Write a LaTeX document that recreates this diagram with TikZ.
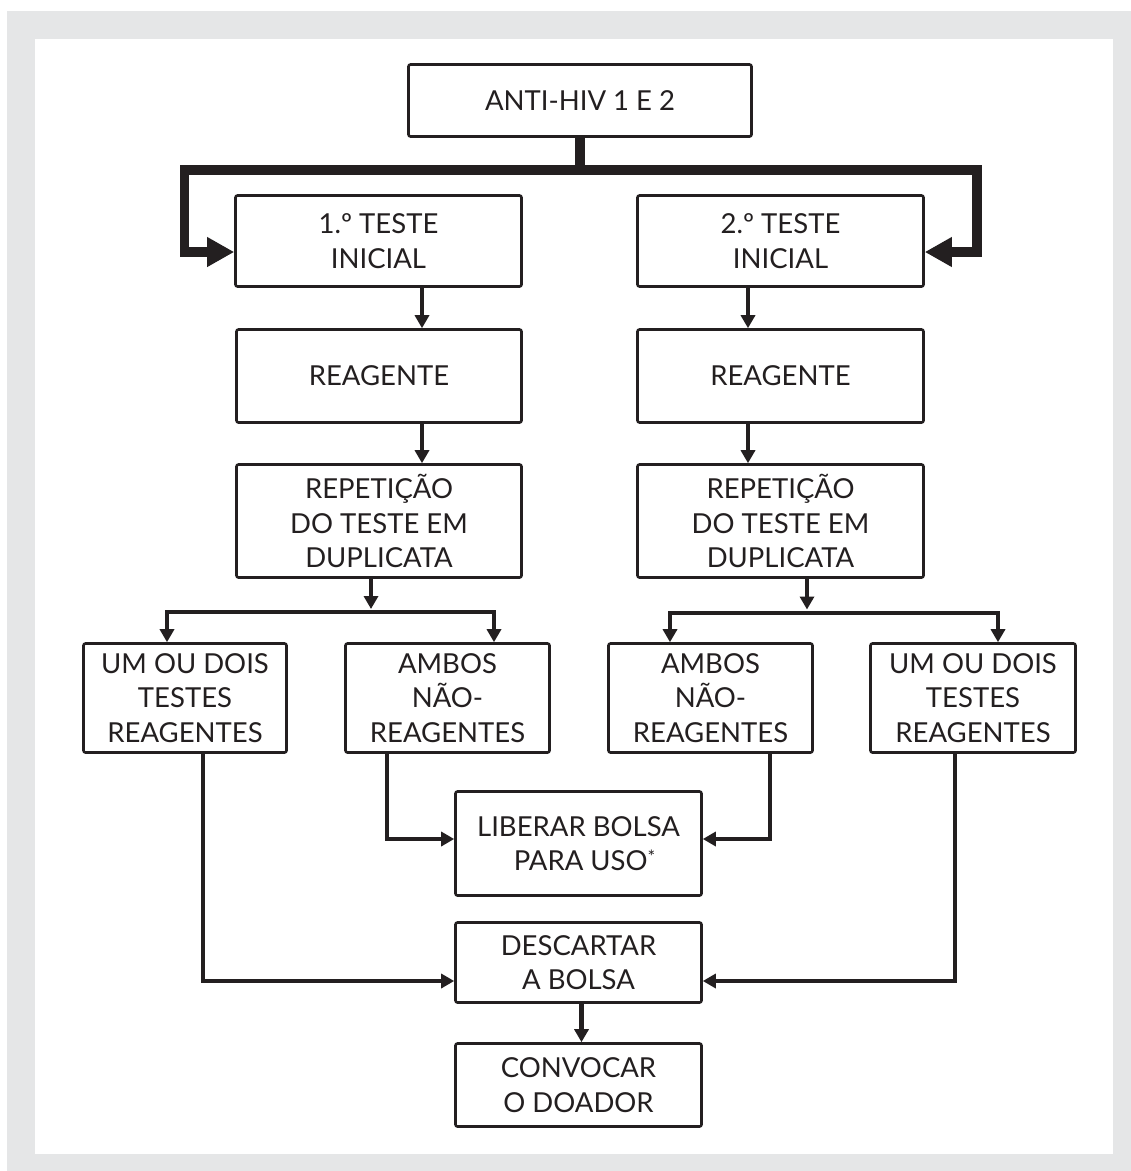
\documentclass[tikz,border=0pt]{standalone}
\usepackage{fontspec}
\setmainfont{Lato}
\usetikzlibrary{arrows.meta,calc}
\definecolor{ink}{HTML}{231F20}
\definecolor{panel}{HTML}{E5E6E7}
\tikzset{
  box/.style={draw=ink, line width=2.6pt, rounded corners=2pt, fill=white, align=center,
    text=ink, inner sep=0pt, font=\fontsize{27.5}{34.7}\selectfont},
  conn/.style={draw=ink, line width=4.5pt, -{Triangle[length=13pt,width=14pt]}},
  conntwo/.style={draw=ink, line width=4.5pt, {Triangle[length=13pt,width=14pt]}-{Triangle[length=13pt,width=14pt]}},
  bigarrow/.style={draw=ink, line width=9.5pt, line join=miter, -{Triangle[length=27pt,width=28pt]}}
}
\begin{document}
\begin{tikzpicture}[x=1pt,y=-1pt]
\useasboundingbox (0,0) rectangle (1131,1171);
\fill[white] (0,0) rectangle (1131,1171);
\fill[panel] (7,11) rectangle (1131,1171);
\fill[white] (35,39) rectangle (1113,1154);

% nodes
\node[box, minimum width=343pt, minimum height=72pt] (anti) at (580,100.5) {ANTI-HIV 1 E 2};
\node[box, minimum width=286pt, minimum height=91pt] (t1) at (378.5,241) {1.º TESTE\\INICIAL};
\node[box, minimum width=286pt, minimum height=91pt] (t2) at (780.5,241) {2.º TESTE\\INICIAL};
\node[box, minimum width=285pt, minimum height=93pt] (r1) at (379,376) {REAGENTE};
\node[box, minimum width=286pt, minimum height=93pt] (r2) at (780.5,376) {REAGENTE};
\node[box, minimum width=285pt, minimum height=113pt] (d1) at (379,521) {REPETIÇÃO\\DO TESTE EM\\DUPLICATA};
\node[box, minimum width=286pt, minimum height=113pt] (d2) at (780.5,521) {REPETIÇÃO\\DO TESTE EM\\DUPLICATA};
\node[box, minimum width=203pt, minimum height=109pt] (u1) at (185,698) {UM OU DOIS\\TESTES\\REAGENTES};
\node[box, minimum width=204pt, minimum height=109pt] (a1) at (447.5,698) {AMBOS\\NÃO-\\REAGENTES};
\node[box, minimum width=204pt, minimum height=109pt] (a2) at (710.5,698) {AMBOS\\NÃO-\\REAGENTES};
\node[box, minimum width=205pt, minimum height=109pt] (u2) at (973,698) {UM OU DOIS\\TESTES\\REAGENTES};
\node[box, minimum width=246pt, minimum height=104pt] (lib) at (578.5,843.5) {LIBERAR BOLSA\\\hspace*{12pt}PARA USO\raisebox{7pt}{\fontsize{18}{18}\selectfont *}};
\node[box, minimum width=246pt, minimum height=80pt] (desc) at (578.5,962.5) {DESCARTAR\\A BOLSA};
\node[box, minimum width=246pt, minimum height=83pt] (conv) at (578.5,1085) {CONVOCAR\\O DOADOR};

% coordinates
\coordinate (sL) at (184.5,170);
\coordinate (sR) at (977,170);
\coordinate (xa) at (422,0);
\coordinate (xb) at (748,0);
\coordinate (c1) at (371,609);
\coordinate (c2) at (807,609.5);
\coordinate (b1L) at (167,612);
\coordinate (b1R) at (494,612);
\coordinate (b2L) at (670,613);
\coordinate (b2R) at (998,613);
\coordinate (xe) at (387,0);
\coordinate (xf) at (770,0);
\coordinate (ye) at (0,839);
\coordinate (xg) at (203,0);
\coordinate (xh) at (955,0);
\coordinate (yg) at (0,981);
\coordinate (xm) at (581.5,0);

% big split
\draw[bigarrow] (anti.south) |- (sL) |- ([yshift=-11pt]t1.west);
\draw[bigarrow] (anti.south) |- (sR) |- ([yshift=-11pt]t2.east);

% vertical flow
\draw[conn] (t1.south -| xa) -- (r1.north -| xa);
\draw[conn] (r1.south -| xa) -- (d1.north -| xa);
\draw[conn] (t2.south -| xb) -- (r2.north -| xb);
\draw[conn] (r2.south -| xb) -- (d2.north -| xb);
\draw[conn] (d1.south -| c1) -- (c1);
\draw[conn] (d2.south -| c2) -- (c2);

% brackets
\draw[conntwo] (u1.north -| b1L) -- (b1L) -- (b1R) -- (a1.north -| b1R);
\draw[conntwo] (a2.north -| b2L) -- (b2L) -- (b2R) -- (u2.north -| b2R);

% to liberar
\draw[conn] (a1.south -| xe) |- (lib.west |- ye);
\draw[conn] (a2.south -| xf) |- (lib.east |- ye);

% to descartar
\draw[conn] (u1.south -| xg) |- (desc.west |- yg);
\draw[conn] (u2.south -| xh) |- (desc.east |- yg);

\draw[conn] (desc.south -| xm) -- (conv.north -| xm);
\end{tikzpicture}
\end{document}
